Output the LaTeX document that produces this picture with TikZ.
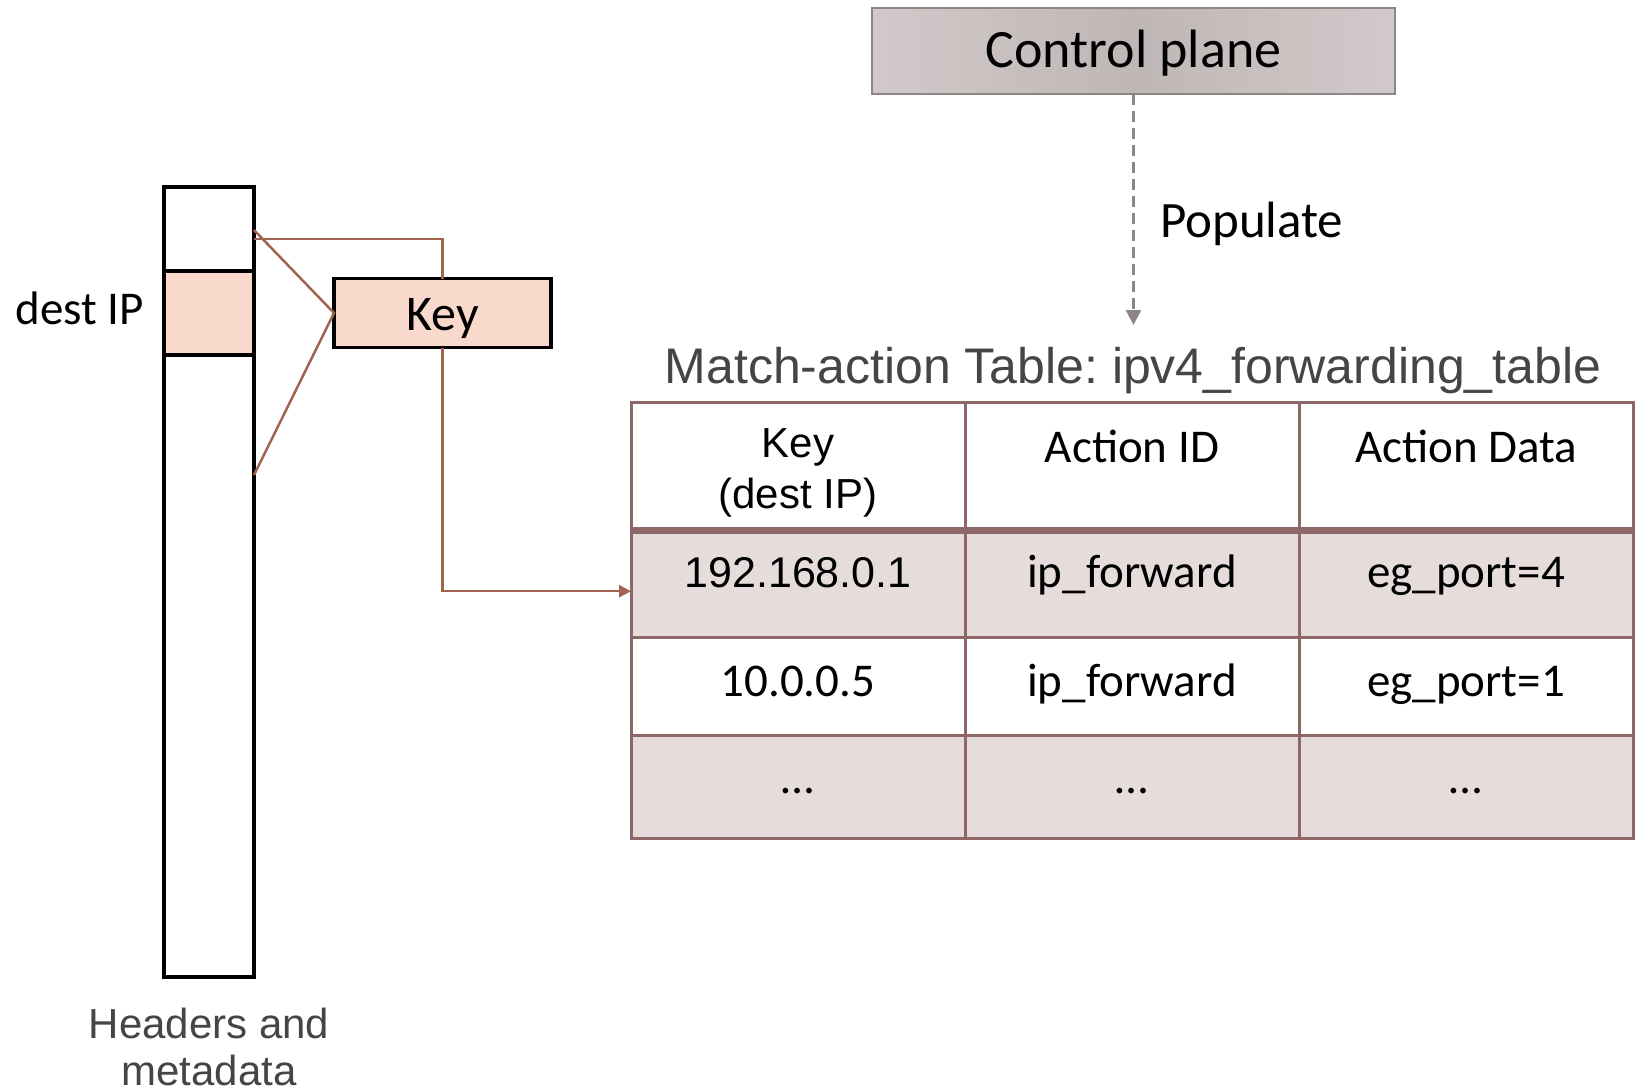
\documentclass[tikz,border=0pt]{standalone}
\usepackage{fontspec}
\setmainfont{Carlito}
\newfontfamily\arialfont{Liberation Sans}
\usepackage{xcolor}
\usepackage{tikz}
\usetikzlibrary{positioning,arrows.meta}

\definecolor{peach}{HTML}{F8D9CC}
\definecolor{linkbrown}{HTML}{A0644F}
\definecolor{tableline}{HTML}{8E6767}
\definecolor{rowfill}{HTML}{E6DCDC}
\definecolor{cpedge}{HTML}{D2CACA}
\definecolor{cpmid}{HTML}{BFB6B6}
\definecolor{cpline}{HTML}{8E8585}
\definecolor{captiongray}{HTML}{454545}
\newcommand{\fsz}[2]{\fontsize{#1pt}{#2pt}\selectfont}
\frenchspacing

\begin{document}
\begin{tikzpicture}[x=1pt, y=-1pt, every node/.style={inner sep=0pt, outer sep=0pt},
	hdrbar/.style={draw, line width=3.5pt, minimum width=90pt, minimum height=790pt},
	destband/.style={draw, line width=3.5pt, fill=peach, minimum width=90pt, minimum height=84pt},
	keybox/.style={draw, line width=3.5pt, fill=peach, minimum width=217pt, minimum height=69pt, text height=35pt, text depth=0pt, font=\fsz{50}{60}},
	cpbox/.style={draw=cpline, line width=2pt, left color=cpedge, right color=cpedge, middle color=cpmid, minimum width=523pt, minimum height=86pt, text height=34pt, text depth=0pt, font=\fsz{54}{64}},
	brownlink/.style={draw=linkbrown, line width=2.5pt},
	dasharrow/.style={draw=cpline, line width=2.5pt, dash pattern=on 11pt off 6pt, -{Triangle[length=15pt, width=15pt]}},
	tcell/.style={draw=tableline, line width=3pt, minimum width=334pt, minimum height=#1, align=center, font=\fsz{47}{56}},
	headrow/.style={tcell=128pt, text height=59.3pt, text depth=68.7pt},
	rowA/.style={tcell=107pt, fill=rowfill, text height=56.3pt, text depth=50.7pt},
	rowB/.style={tcell=97.3pt, text height=58.3pt, text depth=39pt},
	rowC/.style={tcell=103pt, fill=rowfill, text height=58pt, text depth=45pt}]
	\useasboundingbox (0,0) rectangle (1635,1089);

	\node[hdrbar] (hdr) at (209,582) {};
	\node[destband, below=84pt of hdr.north] (band) {};
	\node[left=20pt of band, text height=22pt, text depth=0pt, font=\fsz{47}{56}] (destlbl) {dest IP};
	\node[keybox, right=80pt of band] (key) {Key};
	\node[below=0pt of hdr, align=center, text height=108pt, text depth=0pt, font=\arialfont\fsz{42}{47}, text=captiongray] (hdrlbl) {Headers and\\metadata};

	\node[cpbox] (cp) at (1133.5,51) {Control plane};
	\coordinate (popEnd) at (1133.5,325);
	\node[font=\fsz{51}{60}, anchor=base west] (pop) at (1160,237) {Populate};
	\node[font=\arialfont\fsz{50}{60}, text=captiongray, anchor=base] (title) at (1133,383) {Match-action Table: ipv4\_forwarding\_table};

	\node[headrow, anchor=north west, text height=105.3pt, text depth=22.7pt, font=\arialfont\fsz{42}{51}] (k0) at (631,402.7) {Key\\(dest IP)};
	\node[headrow, right=0pt of k0] (a0) {Action ID};
	\node[headrow, right=0pt of a0] (d0) {Action Data};
	\node[rowA, below=0pt of k0, font=\arialfont\fsz{43}{50}] (k1) {192.168.0.1};
	\node[rowA, right=0pt of k1] (a1) {ip\_forward};
	\node[rowA, right=0pt of a1] (d1) {eg\_port=4};
	\node[rowB, below=0pt of k1] (k2) {10.0.0.5};
	\node[rowB, right=0pt of k2] (a2) {ip\_forward};
	\node[rowB, right=0pt of a2] (d2) {eg\_port=1};
	\node[rowC, below=0pt of k2] (k3) {\dots};
	\node[rowC, right=0pt of k3] (a3) {\dots};
	\node[rowC, right=0pt of a3] (d3) {\dots};
	\draw[tableline, line width=7pt] (k0.south west) -- (d0.south east);

	\coordinate (fanTop) at ([yshift=-43pt]hdr.north east);
	\coordinate (fanBot) at ([yshift=-288pt]hdr.north east);
	\coordinate (tap) at ([yshift=-52pt]hdr.north east);
	\draw[brownlink] (fanTop) -- (key.west) -- (fanBot);
	\draw[brownlink] (tap) -| (key.north);
	\draw[brownlink, -{Triangle[length=12pt, width=12pt]}] (key.south) |- ([yshift=-7pt]k1.west);
	\draw[dasharrow] (cp.south) -- (popEnd);
\end{tikzpicture}
\end{document}
